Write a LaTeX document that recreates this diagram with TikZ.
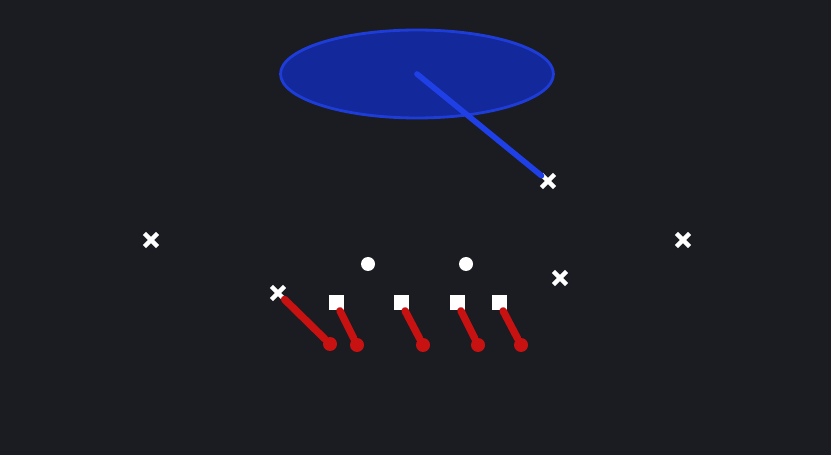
\documentclass[tikz,border=0pt]{standalone}
\usetikzlibrary{
    positioning,
    shapes.geometric,
    shapes.misc
}
\definecolor{field}{HTML}{1A1C21}
\definecolor{zonefill}{HTML}{13289A}
\definecolor{zoneedge}{HTML}{1E3DD8}
\definecolor{coverblue}{HTML}{1F40E6}
\definecolor{blockred}{HTML}{C81212}
\tikzset{
    every picture/.style = {
        x = 0.02cm,
        y = -0.02cm
    },
    defender/.style = {
        cross out,
        draw = white,
        line width = 2.6pt,
        minimum size = 0.17cm,
        inner sep = 0pt
    },
    lineman/.style = {
        rectangle,
        fill = white,
        minimum size = 0.3cm,
        inner sep = 0pt
    },
    back/.style = {
        circle,
        fill = white,
        minimum size = 0.28cm,
        inner sep = 0pt
    },
    blockend/.style = {
        circle,
        fill = blockred,
        minimum size = 0.28cm,
        inner sep = 0pt
    },
    block/.style = {
        draw = blockred,
        line width = 4.2pt,
        line cap = round
    },
    zone/.style = {
        ellipse,
        fill = zonefill,
        draw = zoneedge,
        line width = 1.6pt,
        minimum width = 5.46cm,
        minimum height = 1.76cm
    },
    cover/.style = {
        draw = coverblue,
        line width = 3.2pt,
        line cap = round
    }
}

\begin{document}
\begin{tikzpicture}
    \fill[field] (0, 0) rectangle (831, 455);
    \useasboundingbox (0, 0) rectangle (831, 455);
    % deep zone
    \node[zone] (zone) at (417, 74) {};
    % block ends
    \node[blockend] (e0) at (330, 344) {};
    \node[blockend] (e1) at (357, 345) {};
    \node[blockend] (e2) at (423, 345) {};
    \node[blockend] (e3) at (478, 345) {};
    \node[blockend] (e4) at (521, 345) {};
    % offense
    \node[lineman] (l1) at (336, 303) {};
    \node[lineman] (l2) at (401, 303) {};
    \node[lineman] (l3) at (457, 303) {};
    \node[lineman] (l4) at (499, 303) {};
    \node[back] (b1) at (368, 264) {};
    \node[back] (b2) at (466, 264) {};
    % defense
    \node[defender] (d0) at (278, 293) {};
    \node[defender] (d1) at (548, 181) {};
    \node[defender] (d2) at (151, 240) {};
    \node[defender] (d3) at (683, 240) {};
    \node[defender] (d4) at (560, 278) {};
    % routes
    \path[cover] (zone.center) edge (d1);
    \path[block] (d0) edge (e0);
    \path[block] (l1) edge (e1);
    \path[block] (l2) edge (e2);
    \path[block] (l3) edge (e3);
    \path[block] (l4) edge (e4);
\end{tikzpicture}
\end{document}
